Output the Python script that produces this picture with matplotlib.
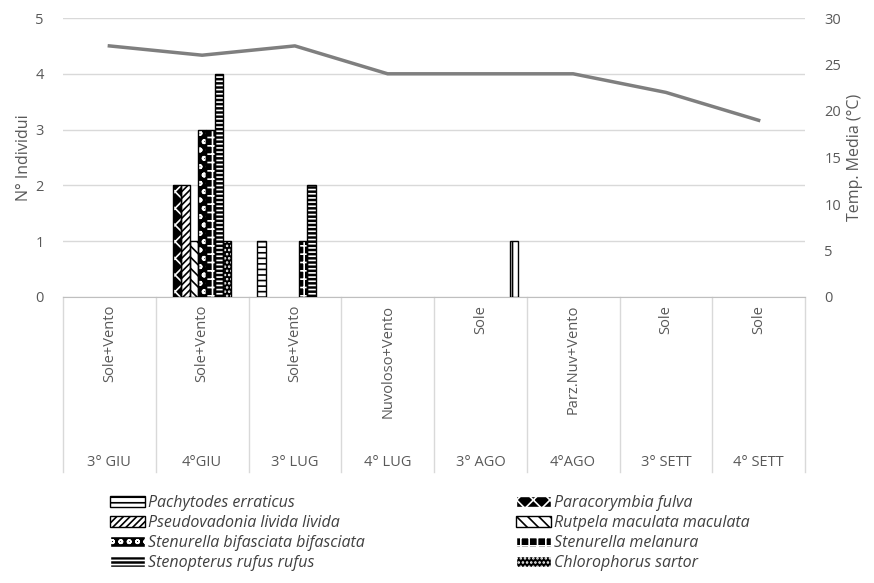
import matplotlib
matplotlib.use("Agg")
import matplotlib.pyplot as plt
import matplotlib.transforms as mtransforms
from matplotlib.patches import Patch
import numpy as np

plt.rcParams['font.family'] = ['Open Sans', 'DejaVu Sans']
plt.rcParams['hatch.linewidth'] = 1.2

periods = ["3° GIU", "4°GIU", "3° LUG", "4° LUG", "3° AGO", "4°AGO", "3° SETT", "4° SETT"]
weather = ["Sole+Vento", "Sole+Vento", "Sole+Vento", "Nuvoloso+Vento", "Sole",
           "Parz.Nuv+Vento", "Sole", "Sole"]

species = ["Pachytodes erraticus", "Paracorymbia fulva", "Pseudovadonia livida livida",
           "Rutpela maculata maculata", "Stenurella bifasciata bifasciata",
           "Stenurella melanura", "Stenopterus rufus rufus", "Chlorophorus sartor",
           "_unlabelled"]

pachytodes    = [0, 0, 1, 0, 0, 0, 0, 0]
paracorymbia  = [0, 2, 0, 0, 0, 0, 0, 0]
pseudovadonia = [0, 2, 0, 0, 0, 0, 0, 0]
rutpela       = [0, 1, 0, 0, 0, 0, 0, 0]
sten_bif      = [0, 3, 0, 0, 0, 0, 0, 0]
sten_mel      = [0, 3, 1, 0, 0, 0, 0, 0]
stenopterus   = [0, 4, 2, 0, 0, 0, 0, 0]
chlorophorus  = [0, 1, 0, 0, 0, 0, 0, 0]
unlabelled    = [0, 0, 0, 0, 1, 0, 0, 0]

temperature = [27, 26, 27, 24, 24, 24, 22, 19]

series = [pachytodes, paracorymbia, pseudovadonia, rutpela, sten_bif,
          sten_mel, stenopterus, chlorophorus, unlabelled]

# (facecolor, hatchcolor, hatch)
styles = [
    ("white", "black", "---"),
    ("black", "white", "xx"),
    ("white", "black", "/////"),
    ("white", "black", "\\\\\\"),
    ("black", "white", "oo"),
    ("black", "white", "++"),
    ("black", "white", "----"),
    ("black", "white", "...."),
    ("white", "black", "||"),
]

grey = "#595959"
fig = plt.figure(figsize=(8.74, 5.83), dpi=100)
ax = fig.add_axes([63/874, 1-297/583, (805-63)/874, (297-18)/583])

x = np.arange(len(periods))
n = len(series)
bw = 0.09
for k, (vals, (fc, hc, h)) in enumerate(zip(series, styles)):
    vals = np.asarray(vals, dtype=float)
    pos = x + (k - (n-1)/2) * bw
    m = vals > 0
    ax.bar(pos[m], vals[m], width=bw, color=fc, edgecolor=hc, hatch=h, linewidth=0, zorder=3)
    ax.bar(pos[m], vals[m], width=bw, facecolor="none", edgecolor="black", linewidth=1.0, zorder=4)

ax.set_xlim(-0.5, len(periods)-0.5)
ax.set_ylim(0, 5)
ax.set_yticks(range(0, 6))
ax.grid(axis='y', color="#d9d9d9", linewidth=1, zorder=0)
ax.set_axisbelow(True)
for s in ["top", "left", "right"]:
    ax.spines[s].set_visible(False)
ax.spines["bottom"].set_color("#bfbfbf")
ax.set_xticks([])
ax.tick_params(axis='y', length=0, labelsize=10.5, labelcolor=grey, pad=14)
ax.set_ylabel("N° Individui", fontsize=11.5, color=grey, labelpad=2)

ax2 = ax.twinx()
ax2.plot(x, temperature, color="#7f7f7f", linewidth=2.5, zorder=5)
ax2.set_ylim(0, 30)
ax2.set_yticks(range(0, 31, 5))
for s in ["top", "left", "right", "bottom"]:
    ax2.spines[s].set_visible(False)
ax2.tick_params(axis='y', length=0, labelsize=10.5, labelcolor=grey, pad=14)
ax2.set_ylabel("Temp. Media (°C)", fontsize=11.5, color=grey, labelpad=4)

# multi-level category axis
trans = mtransforms.blended_transform_factory(ax.transData, ax.transAxes)
ybot = -(472-297)/279
for b in np.arange(-0.5, len(periods), 1.0):
    ax.plot([b, b], [0, ybot], transform=trans, color="#d9d9d9", linewidth=1, clip_on=False)
for i in range(len(periods)):
    ax.text(i, -(305-297)/279, weather[i], transform=trans, rotation=90,
            ha='center', va='top', fontsize=10.5, color=grey)
    ax.text(i, -(463-297)/279, periods[i], transform=trans,
            ha='center', va='center', fontsize=10.5, color=grey)

# legend: two columns
handles = [Patch(facecolor=fc, edgecolor=hc, hatch=h) for (fc, hc, h) in styles[:8]]
leg_kw = dict(frameon=False, loc='upper left', handlelength=2.2, handleheight=0.7,
              handletextpad=0.15, labelspacing=0.25, borderaxespad=0, borderpad=0,
              prop={'style': 'italic', 'size': 11.5})
col1 = [0, 2, 4, 6]
col2 = [1, 3, 5, 7]
l1 = fig.legend([handles[i] for i in col1], [species[i] for i in col1],
                bbox_to_anchor=(110/874, 1-495/583), **leg_kw)
l2 = fig.legend([handles[i] for i in col2], [species[i] for i in col2],
                bbox_to_anchor=(516/874, 1-495/583), **leg_kw)
for l in (l1, l2):
    for t in l.get_texts():
        t.set_color("#404040")
    for p in l.get_patches():
        p.set_linewidth(1.0)

fig.savefig("out.png", dpi=100)
